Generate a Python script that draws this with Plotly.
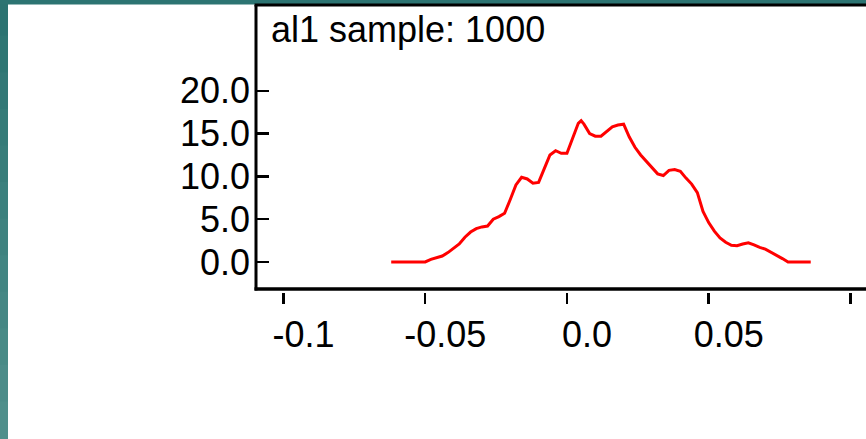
import plotly.graph_objects as go

# ---- data ----
x_vals = [-0.062, -0.060, -0.058, -0.056, -0.054, -0.052, -0.050, -0.048, -0.046, -0.044,
          -0.042, -0.040, -0.038, -0.036, -0.034, -0.032, -0.030, -0.028, -0.026, -0.024,
          -0.022, -0.020, -0.018, -0.016, -0.014, -0.012, -0.010, -0.008, -0.006, -0.004,
          -0.002, 0.000, 0.002, 0.004, 0.005, 0.006, 0.008, 0.010, 0.012, 0.014,
          0.016, 0.018, 0.020, 0.022, 0.024, 0.026, 0.028, 0.030, 0.032, 0.034,
          0.036, 0.038, 0.040, 0.042, 0.044, 0.046, 0.048, 0.050, 0.052, 0.054,
          0.056, 0.058, 0.060, 0.062, 0.064, 0.066, 0.068, 0.070, 0.072, 0.074,
          0.076, 0.078, 0.080, 0.082, 0.084, 0.086]
density = [0.0, 0.0, 0.0, 0.0, 0.0, 0.0, 0.0, 0.3, 0.5, 0.7,
           1.1, 1.6, 2.1, 2.9, 3.5, 3.9, 4.1, 4.2, 5.0, 5.3,
           5.7, 7.3, 9.0, 9.9, 9.7, 9.2, 9.3, 10.9, 12.5, 13.0,
           12.7, 12.7, 14.4, 16.2, 16.5, 16.1, 15.0, 14.7, 14.7, 15.2,
           15.8, 16.0, 16.1, 14.6, 13.4, 12.5, 11.8, 11.1, 10.3, 10.1,
           10.7, 10.8, 10.6, 9.8, 9.1, 8.1, 5.9, 4.6, 3.6, 2.8,
           2.3, 1.95, 1.9, 2.1, 2.25, 2.0, 1.7, 1.5, 1.1, 0.75,
           0.4, 0.0, 0.0, 0.0, 0.0, 0.0]

x_tick_vals = [-0.1, -0.05, 0.0, 0.05, 0.1]
x_tick_text = ["-0.1", "-0.05", "0.0", "0.05", ""]
y_tick_vals = [0, 5, 10, 15, 20]
y_tick_text = ["0.0", "5.0", "10.0", "15.0", "20.0"]
title_text = "al1 sample: 1000"

# ---- geometry ----
W, H = 866, 439
ML, MR, MT, MB = 256, 0, 5, 147
PW, PH = W - ML - MR, H - MT - MB
X_RANGE = [-0.1097, 0.1055]
Y_RANGE = [-3.505, 30.02]
BOX_BOTTOM = -3.154

def px_x(p):
    return (p - ML) / PW

def px_y(p):
    return (H - MB - p) / PH

FONT = "Liberation Sans, Arial, Helvetica, sans-serif"
FS = 36

fig = go.Figure()
fig.add_trace(go.Scatter(
    x=x_vals, y=density, mode="lines",
    line=dict(color="#ff0000", width=3), hoverinfo="skip", showlegend=False,
))

shapes = []
# white slide area over teal background
shapes.append(dict(type="rect", xref="paper", yref="paper", layer="below",
                   x0=px_x(8), x1=px_x(W + 5), y0=px_y(5), y1=px_y(H + 5),
                   fillcolor="white", line=dict(width=0)))
# left teal gradient strip
n_bands = 12
c_top = (43, 115, 113)
c_bot = (79, 143, 139)
for i in range(n_bands):
    t = i / (n_bands - 1)
    c = tuple(round(a + (b - a) * t) for a, b in zip(c_top, c_bot))
    shapes.append(dict(type="rect", xref="paper", yref="paper", layer="below",
                       x0=px_x(-2), x1=px_x(8),
                       y0=px_y(H * (i + 1) / n_bands + 1), y1=px_y(H * i / n_bands - 1),
                       fillcolor="rgb(%d,%d,%d)" % c, line=dict(width=0)))
# top teal strip
shapes.append(dict(type="rect", xref="paper", yref="paper", layer="below",
                   x0=px_x(-2), x1=px_x(W + 2), y0=px_y(4.5), y1=px_y(-2),
                   fillcolor="rgb(44,116,114)", line=dict(width=0)))
# frame lines
shapes.append(dict(type="line", xref="paper", yref="paper", x0=0, x1=0,
                   y0=px_y(290.5), y1=1.0, line=dict(color="black", width=3)))
shapes.append(dict(type="line", xref="paper", yref="paper", x0=px_x(254.5), x1=1.01,
                   y0=1.0, y1=1.0, line=dict(color="black", width=3)))
shapes.append(dict(type="line", xref="paper", yref="y", x0=px_x(254.5), x1=1.01,
                   y0=BOX_BOTTOM, y1=BOX_BOTTOM, line=dict(color="black", width=3.5)))

fig.update_layout(
    width=W, height=H,
    margin=dict(l=ML, r=MR, t=MT, b=MB, pad=0),
    paper_bgcolor="white", plot_bgcolor="white",
    shapes=shapes,
    hovermode=False,
    font=dict(family=FONT, size=FS, color="black"),
    xaxis=dict(range=X_RANGE, tickmode="array", tickvals=x_tick_vals, ticktext=x_tick_text,
               showgrid=False, zeroline=False, showline=False, fixedrange=True,
               ticks="outside", ticklen=11, tickwidth=2.5, tickcolor="black",
               ticklabelshift=20, ticklabelstandoff=0,
               tickfont=dict(family=FONT, size=FS, color="black")),
    yaxis=dict(range=Y_RANGE, tickmode="array", tickvals=y_tick_vals, ticktext=y_tick_text,
               showgrid=False, zeroline=False, showline=False, fixedrange=True,
               ticks="inside", ticklen=13, tickwidth=2.5, tickcolor="black",
               ticklabelstandoff=5,
               tickfont=dict(family=FONT, size=FS, color="black")),
    annotations=[dict(text=title_text, xref="paper", yref="paper",
                      x=px_x(270), y=1.0, xanchor="left", yanchor="top",
                      showarrow=False, borderpad=0, yshift=-3,
                      font=dict(family=FONT, size=FS, color="black"))],
)

fig.write_html("out.html",
               config={"displayModeBar": False, "staticPlot": True},
               post_script="document.body.style.margin='0px';document.body.style.overflow='hidden';")
